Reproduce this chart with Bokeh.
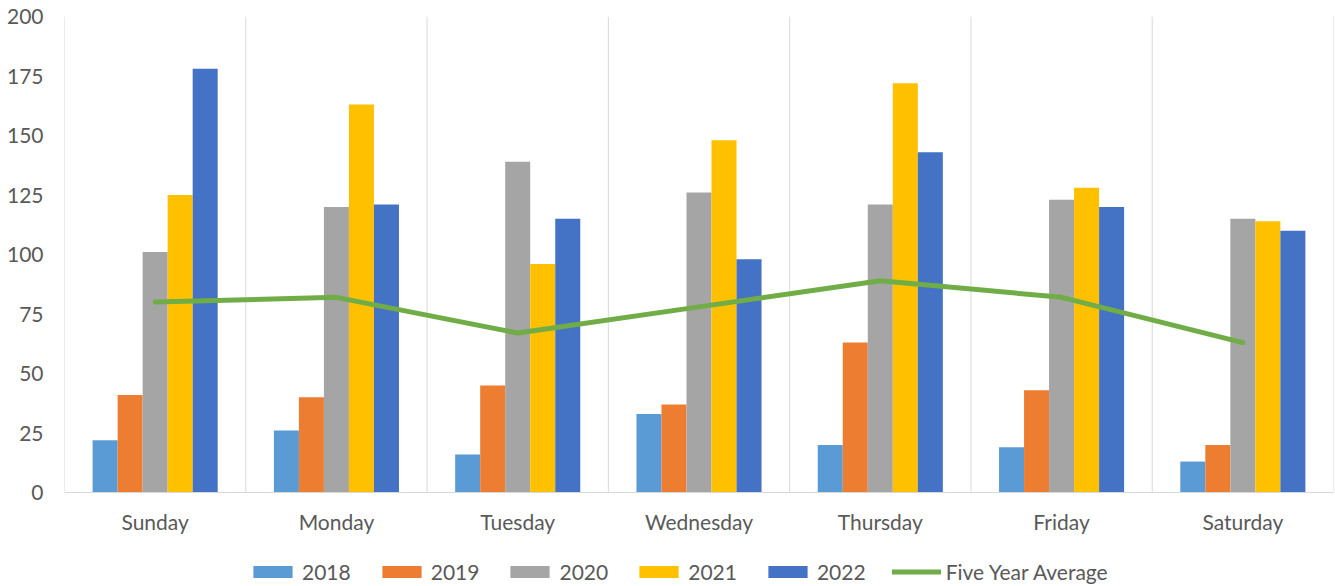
from bokeh.plotting import figure
from bokeh.models import ColumnDataSource, Range1d, FixedTicker, Legend, LegendItem
from bokeh.transform import dodge
from bokeh.embed import file_html
from bokeh.resources import INLINE

# Counts per weekday and year
days = ["Sunday", "Monday", "Tuesday", "Wednesday", "Thursday", "Friday", "Saturday"]
years = ["2018", "2019", "2020", "2021", "2022"]
y2018 = [22, 26, 16, 33, 20, 19, 13]
y2019 = [41, 40, 45, 37, 63, 43, 20]
y2020 = [101, 120, 139, 126, 121, 123, 115]
y2021 = [125, 163, 96, 148, 172, 128, 114]
y2022 = [178, 121, 115, 98, 143, 120, 110]
five_year_avg = [80, 82, 67, 78, 89, 82, 63]
y_ticks = [0, 25, 50, 75, 100, 125, 150, 175, 200]
y_max = 200

colors = ["#5B9BD5", "#ED7D31", "#A5A5A5", "#FFC000", "#4472C4"]
avg_color = "#70AD47"
text_color = "#595959"
grid_color = "#D9D9D9"
font = "Lato"
font_size = "21px"

W, H = 1335, 586
top_px, zero_px = 16, 492          # pixel rows of 200 and 0
# the frame reaches the bottom of the canvas so the legend can sit inside it
y_start = -y_max * (H - zero_px) / (zero_px - top_px)

centers = [i + 0.5 for i in range(len(days))]
source = ColumnDataSource(dict(
    x=centers,
    y2018=y2018, y2019=y2019, y2020=y2020, y2021=y2021, y2022=y2022,
    avg=five_year_avg,
))

p = figure(
    width=W, height=H,
    output_backend="svg", toolbar_location=None,
    x_range=Range1d(0, len(days)), y_range=Range1d(y_start, y_max),
    min_border_left=64, min_border_right=2, min_border_top=top_px, min_border_bottom=0,
)
p.outline_line_color = None
p.background_fill_color = "white"
p.border_fill_color = "white"

# Day separators between the clusters
bounds = list(range(len(days) + 1))
p.segment(x0=bounds, y0=[0] * len(bounds), x1=bounds, y1=[y_max] * len(bounds),
          line_color=grid_color, line_width=1)

# Clustered bars, one column per year within each day
bar_w = 0.138
renderers = []
for k, yr in enumerate(years):
    off = (k - 2) * bar_w
    r = p.vbar(x=dodge("x", off), top="y" + yr, width=bar_w, source=source,
               fill_color=colors[k], line_color=None)
    renderers.append(r)

avg_line = p.line("x", "avg", source=source, line_color=avg_color, line_width=5,
                  line_cap="round", line_join="round")

# Axes
p.yaxis.ticker = FixedTicker(ticks=y_ticks)
p.yaxis.axis_line_color = None
p.yaxis.major_tick_line_color = None
p.yaxis.minor_tick_line_color = None
p.yaxis.major_label_standoff = 15
p.yaxis.major_label_text_font = font
p.yaxis.major_label_text_font_size = font_size
p.yaxis.major_label_text_color = text_color

p.xaxis.fixed_location = 0
p.xaxis.ticker = FixedTicker(ticks=centers)
p.xaxis.major_label_overrides = {c: d for c, d in zip(centers, days)}
p.xaxis.axis_line_color = grid_color
p.xaxis.major_tick_line_color = None
p.xaxis.minor_tick_line_color = None
p.xaxis.major_label_standoff = 10
p.xaxis.major_label_text_font = font
p.xaxis.major_label_text_font_size = font_size
p.xaxis.major_label_text_color = text_color

p.xgrid.grid_line_color = None
p.ygrid.grid_line_color = None

items = [LegendItem(label=yr, renderers=[r]) for yr, r in zip(years, renderers)]
items.append(LegendItem(label="Five Year Average", renderers=[avg_line]))
legend = Legend(
    items=items, orientation="horizontal", location=(184, 2),
    glyph_width=49, glyph_height=15, label_standoff=5, spacing=26,
    padding=0, margin=0,
    border_line_color=None, background_fill_alpha=0,
    label_text_font=font, label_text_font_size=font_size, label_text_color=text_color,
)
p.add_layout(legend, "center")

open("out.html", "w").write(file_html(p, INLINE))
